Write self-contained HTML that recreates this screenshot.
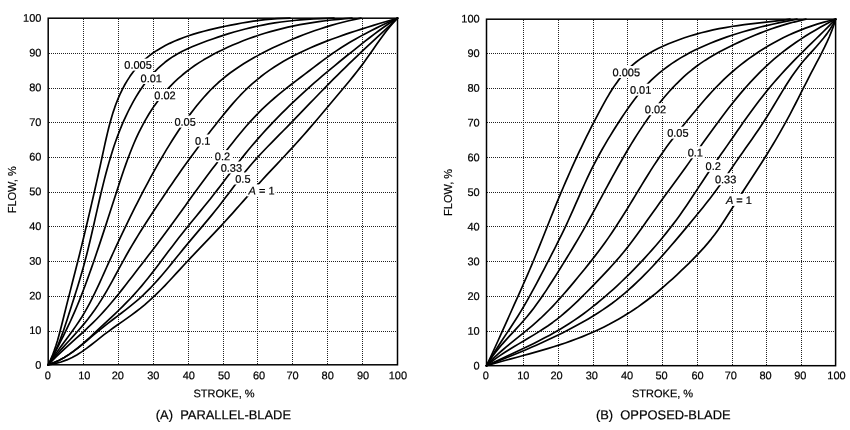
<!DOCTYPE html>
<html><head><meta charset="utf-8"><title>Damper flow characteristics</title>
<style>
html,body{margin:0;padding:0;background:#fff;}
body{width:850px;height:430px;overflow:hidden;font-family:"Liberation Sans",sans-serif;}
svg{display:block;filter:grayscale(1);}
svg text{font-family:"Liberation Sans",sans-serif;font-size:11px;fill:#000;stroke:#000;stroke-width:0.2px;}
svg text.cap{font-size:12.9px;}
</style></head><body>
<svg width="850" height="430" viewBox="0 0 850 430">
<rect width="850" height="430" fill="#fff"/>
<g stroke="#222" stroke-width="1" stroke-dasharray="1 1" fill="none" shape-rendering="crispEdges"><line x1="83.5" y1="19" x2="83.5" y2="364"/><line x1="118.5" y1="19" x2="118.5" y2="364"/><line x1="153.5" y1="19" x2="153.5" y2="364"/><line x1="188.5" y1="19" x2="188.5" y2="364"/><line x1="223.5" y1="19" x2="223.5" y2="364"/><line x1="257.5" y1="19" x2="257.5" y2="364"/><line x1="292.5" y1="19" x2="292.5" y2="364"/><line x1="327.5" y1="19" x2="327.5" y2="364"/><line x1="362.5" y1="19" x2="362.5" y2="364"/><line x1="49" y1="331.5" x2="397" y2="331.5"/><line x1="49" y1="296.5" x2="397" y2="296.5"/><line x1="49" y1="261.5" x2="397" y2="261.5"/><line x1="49" y1="226.5" x2="397" y2="226.5"/><line x1="49" y1="192.5" x2="397" y2="192.5"/><line x1="49" y1="157.5" x2="397" y2="157.5"/><line x1="49" y1="122.5" x2="397" y2="122.5"/><line x1="49" y1="88.5" x2="397" y2="88.5"/><line x1="49" y1="53.5" x2="397" y2="53.5"/></g>
<g stroke="#000" stroke-width="1.7" fill="none" stroke-linejoin="round" stroke-linecap="round"><path d="M48.20,364.80 L50.34,360.33 L52.31,355.68 L54.12,350.89 L55.80,345.95 L57.37,340.91 L58.84,335.78 L60.25,330.57 L61.60,325.31 L62.92,320.02 L64.23,314.72 L65.55,309.42 L66.87,304.14 L68.21,298.87 L69.56,293.60 L70.90,288.34 L72.25,283.08 L73.60,277.81 L74.95,272.55 L76.29,267.28 L77.62,262.00 L78.95,256.71 L80.26,251.41 L81.56,246.10 L82.86,240.79 L84.15,235.46 L85.42,230.13 L86.70,224.79 L87.96,219.45 L89.22,214.09 L90.47,208.73 L91.72,203.37 L92.96,198.00 L94.19,192.62 L95.42,187.23 L96.63,181.84 L97.84,176.44 L99.04,171.03 L100.24,165.61 L101.42,160.18 L102.59,154.74 L103.77,149.31 L104.95,143.88 L106.17,138.48 L107.42,133.13 L108.73,127.82 L110.10,122.58 L111.55,117.42 L113.10,112.36 L114.75,107.40 L116.52,102.56 L118.42,97.85 L120.45,93.26 L122.61,88.82 L124.92,84.51 L127.38,80.36 L129.99,76.36 L132.75,72.51 L135.68,68.83 L138.79,65.32 L142.06,61.99 L145.52,58.84 L149.16,55.86 L152.96,53.05 L156.92,50.40 L161.04,47.91 L165.31,45.57 L169.72,43.36 L174.26,41.29 L178.92,39.35 L183.70,37.52 L188.60,35.80 L193.59,34.18 L198.68,32.66 L203.86,31.23 L209.12,29.88 L214.45,28.60 L219.85,27.38 L225.30,26.23 L230.80,25.12 L236.35,24.05 L241.94,23.03 L247.59,22.07 L253.32,21.19 L259.14,20.39 L265.05,19.70 L271.08,19.12 L277.24,18.67 L283.54,18.36 L290.00,18.20"/><path d="M48.20,364.80 L50.82,360.32 L53.27,355.66 L55.57,350.85 L57.72,345.90 L59.75,340.83 L61.69,335.66 L63.54,330.41 L65.34,325.09 L67.09,319.74 L68.82,314.36 L70.54,308.98 L72.26,303.60 L73.98,298.21 L75.68,292.80 L77.37,287.38 L79.03,281.94 L80.66,276.47 L82.26,270.96 L83.82,265.41 L85.33,259.81 L86.79,254.17 L88.21,248.49 L89.60,242.77 L90.96,237.02 L92.29,231.25 L93.61,225.47 L94.92,219.67 L96.23,213.88 L97.55,208.08 L98.87,202.30 L100.21,196.54 L101.58,190.80 L102.97,185.08 L104.40,179.40 L105.86,173.77 L107.37,168.17 L108.93,162.63 L110.55,157.14 L112.23,151.71 L113.97,146.34 L115.78,141.05 L117.67,135.84 L119.64,130.70 L121.69,125.65 L123.83,120.68 L126.05,115.79 L128.36,111.00 L130.76,106.29 L133.26,101.68 L135.85,97.17 L138.54,92.75 L141.34,88.45 L144.27,84.27 L147.33,80.23 L150.53,76.32 L153.88,72.57 L157.39,68.97 L161.07,65.55 L164.94,62.30 L168.99,59.25 L173.24,56.40 L177.69,53.75 L182.33,51.27 L187.12,48.96 L192.04,46.78 L197.08,44.71 L202.20,42.73 L207.39,40.81 L212.63,38.94 L217.92,37.12 L223.26,35.36 L228.66,33.66 L234.13,32.02 L239.68,30.46 L245.30,28.98 L251.00,27.58 L256.80,26.27 L262.70,25.06 L268.69,23.95 L274.79,22.94 L280.98,22.03 L287.28,21.22 L293.67,20.51 L300.16,19.89 L306.75,19.37 L313.42,18.94 L320.19,18.60 L327.05,18.36 L334.00,18.20"/><path d="M48.20,364.80 L50.77,360.07 L53.33,355.32 L55.87,350.54 L58.38,345.74 L60.86,340.92 L63.30,336.06 L65.71,331.16 L68.08,326.22 L70.41,321.24 L72.69,316.21 L74.91,311.13 L77.09,305.99 L79.21,300.81 L81.29,295.58 L83.33,290.31 L85.33,285.00 L87.29,279.66 L89.23,274.29 L91.14,268.89 L93.03,263.47 L94.90,258.03 L96.75,252.58 L98.59,247.11 L100.42,241.63 L102.23,236.14 L104.04,230.64 L105.84,225.13 L107.63,219.61 L109.42,214.09 L111.20,208.57 L112.98,203.04 L114.76,197.51 L116.54,191.98 L118.33,186.46 L120.13,180.95 L121.95,175.47 L123.81,170.02 L125.71,164.61 L127.66,159.25 L129.66,153.94 L131.73,148.71 L133.87,143.54 L136.09,138.46 L138.41,133.46 L140.82,128.57 L143.33,123.77 L145.94,119.07 L148.66,114.48 L151.48,110.00 L154.43,105.63 L157.48,101.38 L160.66,97.25 L163.96,93.25 L167.38,89.36 L170.92,85.59 L174.59,81.95 L178.38,78.43 L182.28,75.03 L186.31,71.75 L190.47,68.60 L194.74,65.56 L199.14,62.65 L203.64,59.85 L208.25,57.15 L212.97,54.56 L217.78,52.06 L222.68,49.65 L227.66,47.33 L232.72,45.08 L237.86,42.91 L243.08,40.83 L248.38,38.82 L253.77,36.90 L259.24,35.06 L264.80,33.31 L270.44,31.65 L276.18,30.07 L282.00,28.59 L287.92,27.20 L293.93,25.90 L300.03,24.70 L306.23,23.59 L312.51,22.56 L318.89,21.63 L325.34,20.78 L331.89,20.01 L338.51,19.33 L345.21,18.72 L352.00,18.20"/><path d="M48.20,364.80 L51.14,360.33 L54.16,355.94 L57.24,351.62 L60.37,347.33 L63.51,343.07 L66.66,338.81 L69.80,334.54 L72.90,330.23 L75.96,325.88 L78.94,321.45 L81.84,316.94 L84.63,312.32 L87.31,307.60 L89.91,302.78 L92.42,297.89 L94.87,292.92 L97.26,287.91 L99.61,282.84 L101.92,277.75 L104.22,272.64 L106.51,267.52 L108.81,262.41 L111.12,257.31 L113.45,252.23 L115.79,247.16 L118.14,242.11 L120.52,237.07 L122.90,232.05 L125.31,227.04 L127.73,222.06 L130.16,217.08 L132.62,212.13 L135.09,207.19 L137.57,202.27 L140.08,197.37 L142.61,192.48 L145.16,187.62 L147.73,182.78 L150.32,177.97 L152.94,173.18 L155.59,168.42 L158.26,163.69 L160.97,158.98 L163.70,154.31 L166.47,149.67 L169.28,145.07 L172.13,140.50 L175.02,135.98 L177.95,131.51 L180.93,127.08 L183.97,122.71 L187.05,118.38 L190.20,114.12 L193.40,109.91 L196.67,105.77 L200.01,101.70 L203.43,97.72 L206.94,93.82 L210.55,90.02 L214.28,86.33 L218.11,82.76 L222.08,79.32 L226.17,76.00 L230.37,72.79 L234.68,69.70 L239.10,66.70 L243.61,63.81 L248.21,61.00 L252.89,58.27 L257.65,55.62 L262.49,53.05 L267.39,50.54 L272.36,48.10 L277.39,45.73 L282.49,43.42 L287.65,41.17 L292.87,38.98 L298.15,36.85 L303.49,34.78 L308.89,32.77 L314.35,30.82 L319.88,28.94 L325.49,27.14 L331.18,25.42 L336.95,23.79 L342.82,22.24 L348.78,20.79 L354.84,19.44 L361.00,18.20"/><path d="M48.20,364.80 L51.68,360.46 L55.25,356.21 L58.89,352.03 L62.58,347.90 L66.30,343.80 L70.03,339.72 L73.76,335.62 L77.45,331.50 L81.10,327.33 L84.68,323.09 L88.18,318.77 L91.56,314.33 L94.83,309.78 L97.98,305.11 L101.02,300.34 L103.99,295.48 L106.88,290.56 L109.72,285.57 L112.51,280.55 L115.27,275.49 L118.02,270.42 L120.77,265.35 L123.54,260.30 L126.33,255.27 L129.17,250.29 L132.05,245.35 L134.97,240.46 L137.94,235.60 L140.94,230.78 L143.96,225.99 L147.02,221.23 L150.10,216.49 L153.20,211.77 L156.31,207.06 L159.43,202.36 L162.56,197.67 L165.70,193.00 L168.86,188.33 L172.03,183.69 L175.22,179.05 L178.42,174.44 L181.65,169.85 L184.90,165.28 L188.17,160.73 L191.46,156.21 L194.79,151.71 L198.13,147.23 L201.50,142.78 L204.88,138.35 L208.29,133.94 L211.72,129.54 L215.16,125.16 L218.61,120.80 L222.08,116.45 L225.59,112.14 L229.14,107.87 L232.75,103.66 L236.42,99.52 L240.19,95.46 L244.04,91.50 L248.01,87.64 L252.09,83.91 L256.30,80.30 L260.63,76.80 L265.07,73.43 L269.63,70.17 L274.30,67.02 L279.08,63.98 L283.97,61.06 L288.97,58.24 L294.08,55.52 L299.29,52.91 L304.59,50.40 L309.98,47.97 L315.46,45.62 L321.01,43.35 L326.62,41.15 L332.31,39.02 L338.04,36.93 L343.83,34.90 L349.67,32.92 L355.55,30.98 L361.46,29.08 L367.41,27.21 L373.39,25.36 L379.39,23.55 L385.41,21.75 L391.45,19.97 L397.50,18.20"/><path d="M48.20,364.80 L52.05,360.83 L55.99,356.95 L59.99,353.13 L64.04,349.36 L68.13,345.63 L72.24,341.92 L76.35,338.22 L80.46,334.50 L84.54,330.77 L88.58,326.99 L92.56,323.15 L96.47,319.24 L100.30,315.25 L104.04,311.18 L107.71,307.03 L111.32,302.81 L114.86,298.54 L118.36,294.22 L121.83,289.86 L125.26,285.48 L128.67,281.07 L132.08,276.66 L135.48,272.24 L138.88,267.83 L142.29,263.41 L145.70,259.00 L149.10,254.58 L152.49,250.16 L155.88,245.73 L159.25,241.28 L162.61,236.82 L165.94,232.33 L169.26,227.83 L172.56,223.31 L175.85,218.78 L179.12,214.23 L182.39,209.69 L185.66,205.14 L188.93,200.59 L192.21,196.05 L195.50,191.52 L198.80,187.00 L202.12,182.50 L205.46,178.02 L208.81,173.55 L212.17,169.09 L215.55,164.65 L218.94,160.23 L222.35,155.82 L225.77,151.42 L229.20,147.03 L232.65,142.66 L236.13,138.32 L239.64,134.01 L243.19,129.74 L246.80,125.53 L250.47,121.38 L254.21,117.31 L258.04,113.31 L261.95,109.41 L265.97,105.60 L270.07,101.88 L274.25,98.24 L278.50,94.67 L282.80,91.16 L287.16,87.69 L291.55,84.27 L295.96,80.87 L300.40,77.48 L304.84,74.10 L309.28,70.72 L313.71,67.34 L318.16,63.97 L322.63,60.62 L327.15,57.32 L331.71,54.06 L336.34,50.87 L341.05,47.76 L345.84,44.73 L350.72,41.79 L355.67,38.92 L360.69,36.12 L365.78,33.39 L370.93,30.73 L376.15,28.12 L381.42,25.57 L386.73,23.07 L392.10,20.62 L397.50,18.20"/><path d="M48.20,364.80 L53.88,362.66 L59.23,360.19 L64.29,357.43 L69.09,354.41 L73.67,351.17 L78.07,347.75 L82.32,344.19 L86.46,340.51 L90.54,336.76 L94.57,332.98 L98.61,329.20 L102.66,325.43 L106.70,321.65 L110.74,317.87 L114.76,314.07 L118.75,310.24 L122.70,306.37 L126.59,302.45 L130.43,298.47 L134.20,294.42 L137.88,290.28 L141.50,286.08 L145.04,281.80 L148.53,277.48 L151.98,273.10 L155.39,268.69 L158.77,264.25 L162.13,259.79 L165.48,255.33 L168.83,250.86 L172.19,246.40 L175.57,241.96 L178.98,237.55 L182.43,233.18 L185.91,228.84 L189.40,224.52 L192.92,220.21 L196.44,215.92 L199.97,211.62 L203.48,207.32 L206.98,203.00 L210.46,198.66 L213.92,194.29 L217.33,189.89 L220.72,185.46 L224.10,181.02 L227.47,176.57 L230.84,172.13 L234.23,167.70 L237.65,163.30 L241.10,158.93 L244.59,154.60 L248.12,150.31 L251.69,146.06 L255.30,141.85 L258.94,137.67 L262.63,133.54 L266.35,129.44 L270.11,125.38 L273.91,121.37 L277.76,117.39 L281.63,113.45 L285.55,109.55 L289.50,105.68 L293.49,101.85 L297.51,98.05 L301.57,94.29 L305.66,90.56 L309.78,86.86 L313.93,83.20 L318.12,79.56 L322.33,75.95 L326.57,72.37 L330.83,68.82 L335.11,65.28 L339.41,61.76 L343.73,58.26 L348.06,54.77 L352.40,51.29 L356.74,47.81 L361.09,44.35 L365.46,40.89 L369.85,37.47 L374.29,34.09 L378.78,30.75 L383.33,27.49 L387.96,24.30 L392.68,21.20 L397.50,18.20"/><path d="M48.20,364.80 L53.86,362.64 L59.19,360.15 L64.25,357.39 L69.06,354.39 L73.68,351.18 L78.13,347.82 L82.47,344.34 L86.74,340.78 L90.96,337.19 L95.19,333.60 L99.47,330.06 L103.81,326.58 L108.21,323.16 L112.64,319.78 L117.09,316.40 L121.53,313.02 L125.94,309.62 L130.31,306.16 L134.60,302.64 L138.81,299.03 L142.91,295.31 L146.89,291.47 L150.77,287.53 L154.56,283.50 L158.26,279.39 L161.90,275.20 L165.48,270.97 L169.02,266.69 L172.54,262.38 L176.03,258.06 L179.52,253.73 L183.02,249.41 L186.54,245.11 L190.09,240.84 L193.66,236.59 L197.25,232.36 L200.83,228.12 L204.41,223.89 L207.98,219.63 L211.52,215.36 L215.03,211.05 L218.50,206.70 L221.92,202.30 L225.29,197.85 L228.64,193.39 L231.99,188.91 L235.33,184.44 L238.70,179.99 L242.12,175.58 L245.58,171.23 L249.12,166.95 L252.74,162.75 L256.42,158.61 L260.16,154.53 L263.95,150.50 L267.78,146.51 L271.64,142.55 L275.51,138.61 L279.40,134.67 L283.29,130.74 L287.17,126.80 L291.03,122.85 L294.88,118.88 L298.73,114.90 L302.56,110.92 L306.40,106.94 L310.23,102.95 L314.07,98.97 L317.91,95.00 L321.77,91.03 L325.63,87.07 L329.51,83.13 L333.40,79.21 L337.31,75.30 L341.24,71.41 L345.19,67.53 L349.15,63.68 L353.13,59.84 L357.13,56.02 L361.14,52.21 L365.17,48.42 L369.21,44.65 L373.26,40.88 L377.32,37.11 L381.37,33.35 L385.42,29.58 L389.46,25.80 L393.49,22.01 L397.50,18.20"/><path d="M48.20,364.80 L54.87,363.65 L61.04,362.00 L66.78,359.92 L72.14,357.46 L77.18,354.69 L81.97,351.65 L86.55,348.42 L91.00,345.04 L95.36,341.59 L99.71,338.12 L104.09,334.68 L108.56,331.33 L113.09,328.04 L117.67,324.80 L122.26,321.58 L126.85,318.35 L131.41,315.08 L135.90,311.76 L140.32,308.36 L144.63,304.85 L148.82,301.22 L152.91,297.49 L156.90,293.66 L160.82,289.76 L164.68,285.80 L168.48,281.79 L172.25,277.74 L176.00,273.67 L179.74,269.59 L183.49,265.52 L187.26,261.47 L191.05,257.44 L194.86,253.42 L198.67,249.42 L202.50,245.43 L206.32,241.43 L210.14,237.43 L213.95,233.42 L217.74,229.40 L221.52,225.35 L225.26,221.28 L228.98,217.18 L232.68,213.06 L236.36,208.92 L240.03,204.77 L243.69,200.61 L247.36,196.46 L251.03,192.31 L254.71,188.17 L258.41,184.06 L262.14,179.96 L265.89,175.90 L269.66,171.85 L273.45,167.82 L277.25,163.80 L281.04,159.77 L284.83,155.74 L288.61,151.70 L292.36,147.64 L296.10,143.55 L299.79,139.43 L303.46,135.28 L307.11,131.10 L310.73,126.90 L314.33,122.69 L317.92,118.46 L321.50,114.22 L325.07,109.97 L328.64,105.73 L332.22,101.48 L335.80,97.24 L339.38,93.00 L342.95,88.76 L346.51,84.50 L350.04,80.21 L353.54,75.89 L357.00,71.53 L360.40,67.11 L363.75,62.64 L367.03,58.10 L370.26,53.51 L373.46,48.90 L376.67,44.29 L379.91,39.71 L383.21,35.19 L386.59,30.75 L390.08,26.42 L393.71,22.23 L397.50,18.20"/></g>
<rect x="122.5" y="58.6" width="30.8" height="12" fill="#fff"/>
<text x="138.1" y="68.75" text-anchor="middle" transform="rotate(0.03 138.1 68.75)">0.005</text>
<rect x="139.8" y="72.0" width="22.6" height="12" fill="#fff"/>
<text x="151.3" y="82.15" text-anchor="middle" transform="rotate(0.03 151.3 82.15)">0.01</text>
<rect x="152.2" y="89.0" width="25.2" height="12" fill="#fff"/>
<text x="165.0" y="99.15" text-anchor="middle" transform="rotate(0.03 165.0 99.15)">0.02</text>
<rect x="172.4" y="115.6" width="25.0" height="12" fill="#fff"/>
<text x="185.1" y="125.75" text-anchor="middle" transform="rotate(0.03 185.1 125.75)">0.05</text>
<rect x="193.4" y="134.5" width="18.1" height="12" fill="#fff"/>
<text x="202.7" y="144.65" text-anchor="middle" transform="rotate(0.03 202.7 144.65)">0.1</text>
<rect x="212.7" y="150.1" width="19.2" height="12" fill="#fff"/>
<text x="222.5" y="160.25" text-anchor="middle" transform="rotate(0.03 222.5 160.25)">0.2</text>
<rect x="218.5" y="161.5" width="25.4" height="12" fill="#fff"/>
<text x="231.4" y="171.65" text-anchor="middle" transform="rotate(0.03 231.4 171.65)">0.33</text>
<rect x="233.1" y="172.5" width="19.2" height="12" fill="#fff"/>
<text x="242.9" y="182.65" text-anchor="middle" transform="rotate(0.03 242.9 182.65)">0.5</text>
<rect x="247.0" y="184.4" width="28.6" height="12" fill="#fff"/>
<text x="261.5" y="194.55" text-anchor="middle" transform="rotate(0.03 261.5 194.55)"><tspan font-style="italic">A</tspan> = 1</text>
<rect x="48.20" y="18.20" width="349.30" height="346.60" fill="none" stroke="#000" stroke-width="1.5"/>
<text x="41.4" y="368.80" text-anchor="end" transform="rotate(0.03 41.4 368.80)">0</text>
<text x="41.4" y="334.10" text-anchor="end" transform="rotate(0.03 41.4 334.10)">10</text>
<text x="41.4" y="299.40" text-anchor="end" transform="rotate(0.03 41.4 299.40)">20</text>
<text x="41.4" y="264.70" text-anchor="end" transform="rotate(0.03 41.4 264.70)">30</text>
<text x="41.4" y="230.00" text-anchor="end" transform="rotate(0.03 41.4 230.00)">40</text>
<text x="41.4" y="195.30" text-anchor="end" transform="rotate(0.03 41.4 195.30)">50</text>
<text x="41.4" y="160.60" text-anchor="end" transform="rotate(0.03 41.4 160.60)">60</text>
<text x="41.4" y="125.90" text-anchor="end" transform="rotate(0.03 41.4 125.90)">70</text>
<text x="41.4" y="91.20" text-anchor="end" transform="rotate(0.03 41.4 91.20)">80</text>
<text x="41.4" y="56.50" text-anchor="end" transform="rotate(0.03 41.4 56.50)">90</text>
<text x="41.4" y="21.80" text-anchor="end" transform="rotate(0.03 41.4 21.80)">100</text>
<text x="47.9" y="379.2" text-anchor="middle" transform="rotate(0.03 47.9 379.2)">0</text>
<text x="84.3" y="379.2" text-anchor="middle" transform="rotate(0.03 84.3 379.2)">10</text>
<text x="117.8" y="379.2" text-anchor="middle" transform="rotate(0.03 117.8 379.2)">20</text>
<text x="153.3" y="379.2" text-anchor="middle" transform="rotate(0.03 153.3 379.2)">30</text>
<text x="188.8" y="379.2" text-anchor="middle" transform="rotate(0.03 188.8 379.2)">40</text>
<text x="224.1" y="379.2" text-anchor="middle" transform="rotate(0.03 224.1 379.2)">50</text>
<text x="259.1" y="379.2" text-anchor="middle" transform="rotate(0.03 259.1 379.2)">60</text>
<text x="292.5" y="379.2" text-anchor="middle" transform="rotate(0.03 292.5 379.2)">70</text>
<text x="327.7" y="379.2" text-anchor="middle" transform="rotate(0.03 327.7 379.2)">80</text>
<text x="363.0" y="379.2" text-anchor="middle" transform="rotate(0.03 363.0 379.2)">90</text>
<text x="397.9" y="379.2" text-anchor="middle" transform="rotate(0.03 397.9 379.2)">100</text>
<text x="224.0" y="397.2" text-anchor="middle" transform="rotate(0.03 224.0 397.2)">STROKE, %</text>
<text transform="translate(16.0,189.8) rotate(-90)" text-anchor="middle">FLOW, %</text>
<g stroke="#222" stroke-width="1" stroke-dasharray="1 1" fill="none" shape-rendering="crispEdges"><line x1="523.5" y1="20" x2="523.5" y2="365"/><line x1="558.5" y1="20" x2="558.5" y2="365"/><line x1="593.5" y1="20" x2="593.5" y2="365"/><line x1="627.5" y1="20" x2="627.5" y2="365"/><line x1="662.5" y1="20" x2="662.5" y2="365"/><line x1="697.5" y1="20" x2="697.5" y2="365"/><line x1="732.5" y1="20" x2="732.5" y2="365"/><line x1="766.5" y1="20" x2="766.5" y2="365"/><line x1="801.5" y1="20" x2="801.5" y2="365"/><line x1="487" y1="331.5" x2="835" y2="331.5"/><line x1="487" y1="296.5" x2="835" y2="296.5"/><line x1="487" y1="261.5" x2="835" y2="261.5"/><line x1="487" y1="226.5" x2="835" y2="226.5"/><line x1="487" y1="192.5" x2="835" y2="192.5"/><line x1="487" y1="157.5" x2="835" y2="157.5"/><line x1="487" y1="122.5" x2="835" y2="122.5"/><line x1="487" y1="88.5" x2="835" y2="88.5"/><line x1="487" y1="53.5" x2="835" y2="53.5"/></g>
<g stroke="#000" stroke-width="1.7" fill="none" stroke-linejoin="round" stroke-linecap="round"><path d="M486.50,365.70 L488.84,360.74 L491.16,355.75 L493.47,350.76 L495.76,345.75 L498.04,340.73 L500.32,335.70 L502.58,330.66 L504.84,325.62 L507.10,320.57 L509.36,315.52 L511.61,310.48 L513.87,305.43 L516.13,300.39 L518.40,295.35 L520.65,290.30 L522.90,285.25 L525.14,280.18 L527.36,275.10 L529.56,270.00 L531.74,264.88 L533.90,259.73 L536.03,254.55 L538.14,249.36 L540.24,244.16 L542.32,238.94 L544.40,233.72 L546.48,228.49 L548.56,223.26 L550.64,218.04 L552.73,212.83 L554.83,207.63 L556.95,202.44 L559.09,197.28 L561.25,192.13 L563.42,187.00 L565.62,181.90 L567.83,176.81 L570.07,171.74 L572.33,166.70 L574.62,161.68 L576.92,156.68 L579.25,151.71 L581.61,146.76 L583.99,141.84 L586.39,136.94 L588.82,132.06 L591.27,127.21 L593.75,122.39 L596.25,117.58 L598.77,112.81 L601.32,108.05 L603.91,103.33 L606.54,98.66 L609.24,94.06 L612.03,89.55 L614.94,85.15 L617.98,80.89 L621.17,76.78 L624.54,72.84 L628.11,69.10 L631.88,65.58 L635.87,62.26 L640.05,59.14 L644.42,56.20 L648.95,53.43 L653.64,50.82 L658.48,48.35 L663.44,46.02 L668.53,43.80 L673.73,41.69 L679.03,39.69 L684.44,37.80 L689.96,36.02 L695.59,34.34 L701.32,32.77 L707.16,31.31 L713.11,29.95 L719.15,28.69 L725.30,27.54 L731.56,26.49 L737.91,25.54 L744.34,24.66 L750.83,23.85 L757.36,23.08 L763.92,22.33 L770.48,21.59 L777.02,20.83 L783.54,20.04 L790.00,19.20"/><path d="M486.50,365.70 L489.17,360.99 L491.92,356.36 L494.73,351.79 L497.60,347.27 L500.49,342.78 L503.42,338.33 L506.35,333.88 L509.29,329.43 L512.21,324.98 L515.11,320.50 L517.98,315.98 L520.79,311.41 L523.55,306.79 L526.27,302.12 L528.94,297.41 L531.57,292.66 L534.17,287.87 L536.74,283.07 L539.29,278.24 L541.83,273.39 L544.36,268.54 L546.88,263.68 L549.40,258.81 L551.91,253.94 L554.40,249.06 L556.88,244.16 L559.34,239.23 L561.77,234.28 L564.18,229.30 L566.55,224.29 L568.88,219.24 L571.17,214.15 L573.44,209.04 L575.70,203.92 L577.96,198.79 L580.21,193.67 L582.49,188.56 L584.79,183.48 L587.12,178.43 L589.50,173.42 L591.93,168.47 L594.42,163.58 L596.97,158.75 L599.57,153.97 L602.23,149.24 L604.93,144.56 L607.68,139.93 L610.46,135.33 L613.28,130.77 L616.14,126.24 L619.02,121.74 L621.93,117.28 L624.89,112.85 L627.89,108.47 L630.96,104.16 L634.10,99.92 L637.33,95.76 L640.65,91.70 L644.09,87.76 L647.64,83.93 L651.32,80.22 L655.13,76.65 L659.07,73.21 L663.14,69.90 L667.34,66.71 L671.65,63.65 L676.09,60.71 L680.65,57.88 L685.33,55.18 L690.12,52.58 L695.01,50.09 L700.01,47.71 L705.10,45.42 L710.29,43.23 L715.57,41.13 L720.93,39.11 L726.37,37.17 L731.89,35.30 L737.48,33.51 L743.15,31.80 L748.88,30.15 L754.68,28.57 L760.55,27.05 L766.48,25.60 L772.47,24.21 L778.52,22.87 L784.62,21.60 L790.78,20.37 L796.99,19.20"/><path d="M486.50,365.70 L489.33,361.05 L492.35,356.58 L495.54,352.29 L498.86,348.13 L502.29,344.07 L505.80,340.11 L509.37,336.19 L512.97,332.31 L516.57,328.43 L520.15,324.52 L523.67,320.55 L527.11,316.51 L530.46,312.38 L533.72,308.16 L536.91,303.86 L540.03,299.50 L543.09,295.07 L546.09,290.60 L549.06,286.08 L551.99,281.53 L554.89,276.95 L557.78,272.36 L560.66,267.75 L563.53,263.13 L566.38,258.50 L569.22,253.86 L572.04,249.20 L574.85,244.52 L577.63,239.82 L580.39,235.10 L583.13,230.36 L585.84,225.59 L588.53,220.79 L591.20,215.98 L593.85,211.14 L596.48,206.29 L599.11,201.44 L601.73,196.58 L604.35,191.71 L606.97,186.85 L609.60,182.00 L612.24,177.16 L614.90,172.33 L617.57,167.52 L620.27,162.73 L622.99,157.97 L625.73,153.23 L628.51,148.53 L631.33,143.86 L634.18,139.23 L637.08,134.64 L640.02,130.10 L643.01,125.61 L646.05,121.16 L649.14,116.77 L652.29,112.44 L655.51,108.17 L658.78,103.97 L662.13,99.83 L665.54,95.76 L669.03,91.76 L672.60,87.85 L676.26,84.03 L680.02,80.31 L683.89,76.69 L687.86,73.18 L691.96,69.79 L696.18,66.54 L700.54,63.41 L705.02,60.41 L709.62,57.52 L714.32,54.74 L719.12,52.06 L724.01,49.46 L728.97,46.95 L734.01,44.50 L739.10,42.11 L744.24,39.77 L749.45,37.49 L754.71,35.27 L760.05,33.12 L765.46,31.05 L770.95,29.06 L776.53,27.16 L782.21,25.35 L787.99,23.65 L793.87,22.05 L799.87,20.57 L805.99,19.20"/><path d="M486.50,365.70 L490.24,361.62 L494.14,357.70 L498.16,353.92 L502.30,350.24 L506.53,346.65 L510.81,343.12 L515.14,339.63 L519.48,336.16 L523.82,332.68 L528.13,329.17 L532.38,325.61 L536.56,321.97 L540.65,318.24 L544.64,314.42 L548.56,310.52 L552.40,306.55 L556.18,302.51 L559.90,298.42 L563.57,294.27 L567.19,290.08 L570.79,285.85 L574.35,281.60 L577.89,277.33 L581.41,273.04 L584.92,268.73 L588.40,264.39 L591.85,260.03 L595.27,255.63 L598.65,251.20 L601.99,246.72 L605.28,242.19 L608.52,237.62 L611.70,232.98 L614.84,228.30 L617.92,223.57 L620.97,218.81 L623.99,214.01 L626.98,209.19 L629.96,204.34 L632.91,199.48 L635.86,194.62 L638.81,189.75 L641.76,184.88 L644.73,180.04 L647.71,175.21 L650.73,170.41 L653.78,165.64 L656.88,160.92 L660.02,156.25 L663.23,151.64 L666.50,147.09 L669.82,142.60 L673.19,138.16 L676.61,133.76 L680.07,129.40 L683.56,125.07 L687.06,120.77 L690.59,116.48 L694.13,112.20 L697.69,107.95 L701.28,103.72 L704.91,99.53 L708.58,95.39 L712.31,91.30 L716.10,87.28 L719.97,83.33 L723.92,79.47 L727.96,75.69 L732.09,72.00 L736.31,68.40 L740.62,64.90 L745.02,61.49 L749.52,58.17 L754.11,54.94 L758.79,51.81 L763.57,48.77 L768.44,45.83 L773.41,42.99 L778.48,40.24 L783.66,37.60 L788.94,35.07 L794.34,32.65 L799.85,30.35 L805.48,28.16 L811.24,26.11 L817.13,24.18 L823.15,22.38 L829.30,20.72 L835.60,19.20"/><path d="M486.50,365.70 L490.82,362.20 L495.29,358.86 L499.89,355.64 L504.59,352.53 L509.38,349.50 L514.24,346.54 L519.13,343.62 L524.04,340.72 L528.95,337.81 L533.83,334.88 L538.67,331.89 L543.43,328.84 L548.10,325.70 L552.66,322.44 L557.10,319.06 L561.43,315.57 L565.65,311.99 L569.80,308.31 L573.86,304.57 L577.87,300.76 L581.83,296.90 L585.75,293.00 L589.64,289.08 L593.52,285.14 L597.37,281.18 L601.21,277.20 L605.01,273.18 L608.77,269.13 L612.49,265.03 L616.16,260.89 L619.78,256.69 L623.33,252.43 L626.83,248.11 L630.25,243.71 L633.61,239.26 L636.93,234.76 L640.21,230.23 L643.47,225.67 L646.71,221.09 L649.95,216.52 L653.19,211.95 L656.46,207.40 L659.75,202.87 L663.05,198.36 L666.36,193.85 L669.67,189.35 L672.98,184.84 L676.28,180.32 L679.56,175.79 L682.83,171.24 L686.09,166.69 L689.34,162.12 L692.59,157.56 L695.83,152.99 L699.08,148.42 L702.33,143.85 L705.59,139.29 L708.85,134.74 L712.13,130.20 L715.42,125.67 L718.73,121.17 L722.07,116.69 L725.44,112.25 L728.84,107.83 L732.28,103.46 L735.77,99.13 L739.30,94.85 L742.89,90.62 L746.54,86.45 L750.24,82.34 L754.02,78.30 L757.86,74.33 L761.78,70.43 L765.77,66.61 L769.84,62.86 L774.00,59.21 L778.25,55.64 L782.59,52.16 L787.02,48.78 L791.53,45.47 L796.13,42.26 L800.81,39.12 L805.56,36.06 L810.40,33.08 L815.30,30.17 L820.28,27.33 L825.32,24.55 L830.43,21.85 L835.60,19.20"/><path d="M486.50,365.70 L491.81,363.19 L497.13,360.70 L502.47,358.22 L507.81,355.75 L513.15,353.27 L518.47,350.78 L523.78,348.27 L529.06,345.73 L534.30,343.16 L539.50,340.54 L544.65,337.87 L549.74,335.15 L554.76,332.36 L559.72,329.50 L564.59,326.55 L569.37,323.52 L574.07,320.41 L578.70,317.21 L583.25,313.95 L587.72,310.61 L592.13,307.20 L596.48,303.73 L600.76,300.20 L604.99,296.61 L609.16,292.97 L613.29,289.28 L617.36,285.54 L621.39,281.75 L625.38,277.92 L629.31,274.04 L633.21,270.12 L637.06,266.15 L640.87,262.15 L644.63,258.10 L648.36,254.01 L652.05,249.88 L655.69,245.71 L659.29,241.49 L662.84,237.23 L666.34,232.91 L669.79,228.55 L673.19,224.13 L676.54,219.66 L679.83,215.14 L683.06,210.55 L686.25,205.92 L689.39,201.25 L692.51,196.56 L695.62,191.85 L698.71,187.13 L701.82,182.41 L704.93,177.71 L708.07,173.04 L711.24,168.39 L714.43,163.76 L717.64,159.15 L720.85,154.56 L724.08,149.97 L727.30,145.37 L730.52,140.78 L733.73,136.17 L736.93,131.55 L740.14,126.94 L743.35,122.35 L746.59,117.77 L749.85,113.21 L753.15,108.69 L756.48,104.21 L759.87,99.78 L763.30,95.40 L766.79,91.07 L770.32,86.79 L773.91,82.56 L777.54,78.38 L781.22,74.24 L784.95,70.15 L788.72,66.11 L792.53,62.11 L796.39,58.15 L800.29,54.23 L804.21,50.34 L808.16,46.47 L812.11,42.61 L816.07,38.75 L820.02,34.89 L823.96,31.01 L827.88,27.11 L831.76,23.17 L835.60,19.20"/><path d="M486.50,365.70 L492.12,363.50 L497.72,361.29 L503.31,359.06 L508.87,356.81 L514.41,354.53 L519.93,352.23 L525.42,349.91 L530.88,347.55 L536.30,345.16 L541.70,342.74 L547.05,340.28 L552.37,337.78 L557.64,335.24 L562.88,332.66 L568.06,330.02 L573.19,327.34 L578.27,324.60 L583.28,321.80 L588.23,318.93 L593.11,316.00 L597.91,312.98 L602.64,309.89 L607.28,306.71 L611.83,303.45 L616.28,300.09 L620.64,296.64 L624.91,293.09 L629.10,289.46 L633.20,285.75 L637.24,281.97 L641.20,278.11 L645.11,274.20 L648.95,270.23 L652.75,266.22 L656.50,262.15 L660.22,258.05 L663.90,253.92 L667.55,249.75 L671.18,245.56 L674.78,241.35 L678.36,237.12 L681.93,232.87 L685.49,228.61 L689.04,224.35 L692.59,220.08 L696.12,215.80 L699.64,211.51 L703.14,207.18 L706.60,202.83 L710.02,198.43 L713.38,193.98 L716.70,189.48 L719.97,184.93 L723.20,180.35 L726.41,175.75 L729.61,171.13 L732.80,166.50 L736.00,161.88 L739.21,157.28 L742.44,152.69 L745.67,148.11 L748.90,143.52 L752.12,138.93 L755.32,134.31 L758.49,129.66 L761.62,124.98 L764.71,120.25 L767.74,115.47 L770.72,110.63 L773.66,105.76 L776.59,100.87 L779.51,95.98 L782.46,91.11 L785.44,86.27 L788.47,81.49 L791.58,76.79 L794.79,72.18 L798.10,67.68 L801.55,63.31 L805.13,59.07 L808.80,54.93 L812.52,50.83 L816.23,46.72 L819.88,42.56 L823.43,38.29 L826.83,33.87 L830.02,29.25 L832.96,24.38 L835.60,19.20"/><path d="M486.50,365.70 L492.57,363.95 L498.67,362.24 L504.80,360.55 L510.94,358.88 L517.09,357.21 L523.23,355.54 L529.36,353.85 L535.47,352.15 L541.55,350.41 L547.58,348.63 L553.57,346.80 L559.50,344.91 L565.35,342.95 L571.13,340.91 L576.83,338.79 L582.44,336.59 L587.96,334.30 L593.41,331.92 L598.76,329.46 L604.03,326.91 L609.21,324.28 L614.30,321.55 L619.30,318.74 L624.21,315.84 L629.04,312.84 L633.76,309.76 L638.40,306.58 L642.95,303.31 L647.42,299.96 L651.81,296.54 L656.14,293.05 L660.40,289.49 L664.60,285.88 L668.75,282.22 L672.86,278.51 L676.92,274.76 L680.95,270.97 L684.96,267.16 L688.93,263.31 L692.85,259.42 L696.71,255.46 L700.50,251.44 L704.21,247.34 L707.84,243.14 L711.35,238.84 L714.75,234.43 L718.04,229.90 L721.22,225.27 L724.33,220.56 L727.39,215.80 L730.42,211.02 L733.44,206.22 L736.48,201.45 L739.54,196.69 L742.62,191.96 L745.71,187.23 L748.81,182.52 L751.91,177.80 L755.00,173.07 L758.07,168.33 L761.13,163.57 L764.16,158.79 L767.17,153.97 L770.14,149.13 L773.08,144.26 L775.99,139.35 L778.87,134.41 L781.71,129.44 L784.51,124.42 L787.27,119.37 L789.99,114.28 L792.68,109.15 L795.34,103.99 L797.98,98.82 L800.61,93.63 L803.24,88.44 L805.87,83.26 L808.51,78.08 L811.17,72.92 L813.85,67.79 L816.56,62.69 L819.27,57.58 L821.94,52.43 L824.55,47.23 L827.06,41.93 L829.46,36.50 L831.70,30.93 L833.76,25.17 L835.60,19.20"/></g>
<rect x="610.4" y="66.0" width="31.5" height="12" fill="#fff"/>
<text x="626.3" y="76.15" text-anchor="middle" transform="rotate(0.03 626.3 76.15)">0.005</text>
<rect x="628.1" y="83.7" width="24.6" height="12" fill="#fff"/>
<text x="640.6" y="93.85" text-anchor="middle" transform="rotate(0.03 640.6 93.85)">0.01</text>
<rect x="642.8" y="103.2" width="24.9" height="12" fill="#fff"/>
<text x="655.5" y="113.35" text-anchor="middle" transform="rotate(0.03 655.5 113.35)">0.02</text>
<rect x="665.1" y="126.7" width="25.2" height="12" fill="#fff"/>
<text x="677.9" y="136.85" text-anchor="middle" transform="rotate(0.03 677.9 136.85)">0.05</text>
<rect x="685.7" y="146.3" width="18.8" height="12" fill="#fff"/>
<text x="695.3" y="156.45" text-anchor="middle" transform="rotate(0.03 695.3 156.45)">0.1</text>
<rect x="703.4" y="159.9" width="19.3" height="12" fill="#fff"/>
<text x="713.2" y="170.05" text-anchor="middle" transform="rotate(0.03 713.2 170.05)">0.2</text>
<rect x="712.8" y="173.2" width="25.2" height="12" fill="#fff"/>
<text x="725.6" y="183.35" text-anchor="middle" transform="rotate(0.03 725.6 183.35)">0.33</text>
<rect x="724.0" y="193.9" width="29.4" height="12" fill="#fff"/>
<text x="738.9" y="204.05" text-anchor="middle" transform="rotate(0.03 738.9 204.05)"><tspan font-style="italic">A</tspan> = 1</text>
<rect x="486.50" y="19.20" width="349.10" height="346.50" fill="none" stroke="#000" stroke-width="1.5"/>
<text x="479.7" y="369.40" text-anchor="end" transform="rotate(0.03 479.7 369.40)">0</text>
<text x="479.7" y="334.70" text-anchor="end" transform="rotate(0.03 479.7 334.70)">10</text>
<text x="479.7" y="300.00" text-anchor="end" transform="rotate(0.03 479.7 300.00)">20</text>
<text x="479.7" y="265.30" text-anchor="end" transform="rotate(0.03 479.7 265.30)">30</text>
<text x="479.7" y="230.60" text-anchor="end" transform="rotate(0.03 479.7 230.60)">40</text>
<text x="479.7" y="195.90" text-anchor="end" transform="rotate(0.03 479.7 195.90)">50</text>
<text x="479.7" y="161.20" text-anchor="end" transform="rotate(0.03 479.7 161.20)">60</text>
<text x="479.7" y="126.50" text-anchor="end" transform="rotate(0.03 479.7 126.50)">70</text>
<text x="479.7" y="91.80" text-anchor="end" transform="rotate(0.03 479.7 91.80)">80</text>
<text x="479.7" y="57.10" text-anchor="end" transform="rotate(0.03 479.7 57.10)">90</text>
<text x="479.7" y="22.40" text-anchor="end" transform="rotate(0.03 479.7 22.40)">100</text>
<text x="485.7" y="379.2" text-anchor="middle" transform="rotate(0.03 485.7 379.2)">0</text>
<text x="523.3" y="379.2" text-anchor="middle" transform="rotate(0.03 523.3 379.2)">10</text>
<text x="556.5" y="379.2" text-anchor="middle" transform="rotate(0.03 556.5 379.2)">20</text>
<text x="591.8" y="379.2" text-anchor="middle" transform="rotate(0.03 591.8 379.2)">30</text>
<text x="627.0" y="379.2" text-anchor="middle" transform="rotate(0.03 627.0 379.2)">40</text>
<text x="661.5" y="379.2" text-anchor="middle" transform="rotate(0.03 661.5 379.2)">50</text>
<text x="697.5" y="379.2" text-anchor="middle" transform="rotate(0.03 697.5 379.2)">60</text>
<text x="730.8" y="379.2" text-anchor="middle" transform="rotate(0.03 730.8 379.2)">70</text>
<text x="765.6" y="379.2" text-anchor="middle" transform="rotate(0.03 765.6 379.2)">80</text>
<text x="800.3" y="379.2" text-anchor="middle" transform="rotate(0.03 800.3 379.2)">90</text>
<text x="836.5" y="379.2" text-anchor="middle" transform="rotate(0.03 836.5 379.2)">100</text>
<text x="662.6" y="397.2" text-anchor="middle" transform="rotate(0.03 662.6 397.2)">STROKE, %</text>
<text transform="translate(452.4,192.4) rotate(-90)" text-anchor="middle">FLOW, %</text>
<text class="cap" x="223.4" y="419.2" text-anchor="middle" xml:space="preserve" transform="rotate(0.03 223.4 419.2)">(A)  PARALLEL-BLADE</text>
<text class="cap" x="663.3" y="419.3" text-anchor="middle" xml:space="preserve" transform="rotate(0.03 663.3 419.3)">(B)  OPPOSED-BLADE</text>
</svg>
</body></html>
